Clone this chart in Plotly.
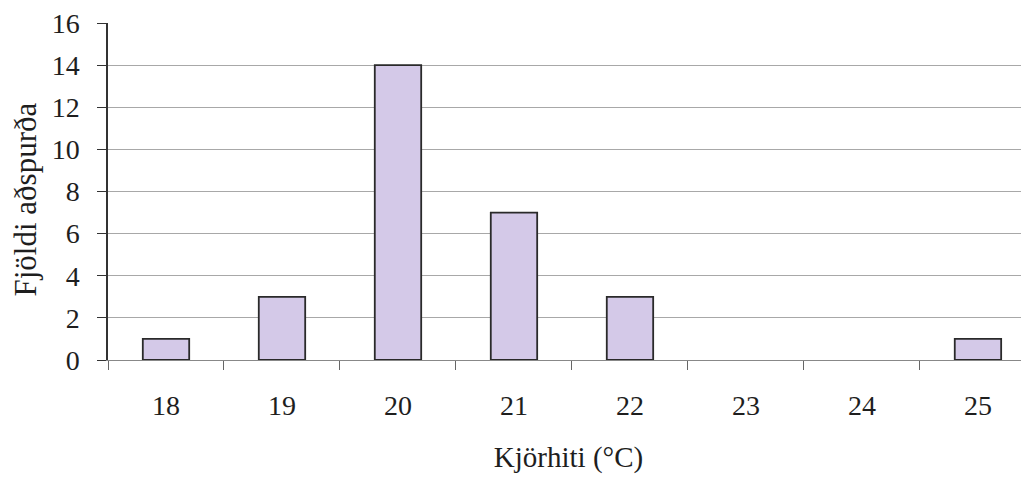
import plotly.graph_objects as go

categories = ["18", "19", "20", "21", "22", "23", "24", "25"]
counts = [1, 3, 14, 7, 3, 0, 0, 1]
y_ticks = [0, 2, 4, 6, 8, 10, 12, 14, 16]

FONT = "Liberation Serif, Times New Roman, serif"
TXT = "#1e1e1e"

fig = go.Figure(go.Bar(
    x=categories, y=counts, width=0.4,
    marker=dict(color="#d4c9e8",
                line=dict(color="#2a2a2a", width=[1.8 if v > 0 else 0 for v in counts])),
))

fig.update_layout(
    width=1021, height=469,
    margin=dict(l=100, r=0, t=15, b=117),
    paper_bgcolor="white", plot_bgcolor="white",
    font=dict(family=FONT, size=28, color=TXT),
    showlegend=False,
    annotations=[dict(
        text="Fjöldi aðspurða", textangle=-90,
        xref="paper", yref="paper", x=-0.0895, y=0.475,
        xanchor="center", yanchor="middle", showarrow=False,
        font=dict(size=31, family=FONT, color=TXT),
    )],
)
fig.update_xaxes(
    type="category", range=[-0.5, 7.44], automargin=False,
    tickson="boundaries", ticks="outside", ticklen=9, tickcolor="#666",
    showline=True, linecolor="#888", linewidth=1.2,
    showgrid=False, ticklabelstandoff=20,
    title=dict(text="Kjörhiti (°C)", standoff=26, font=dict(size=29)),
)
fig.update_yaxes(
    range=[0, 16], tickvals=y_ticks, ticks="outside", ticklen=9, tickcolor="#333",
    showline=True, linecolor="#333", linewidth=1.5, automargin=False,
    showgrid=True, gridcolor="#a8a8a8", gridwidth=1, zeroline=False,
    ticklabelstandoff=12, ticklabeloverflow="allow",
)

fig.write_html("out.html")
